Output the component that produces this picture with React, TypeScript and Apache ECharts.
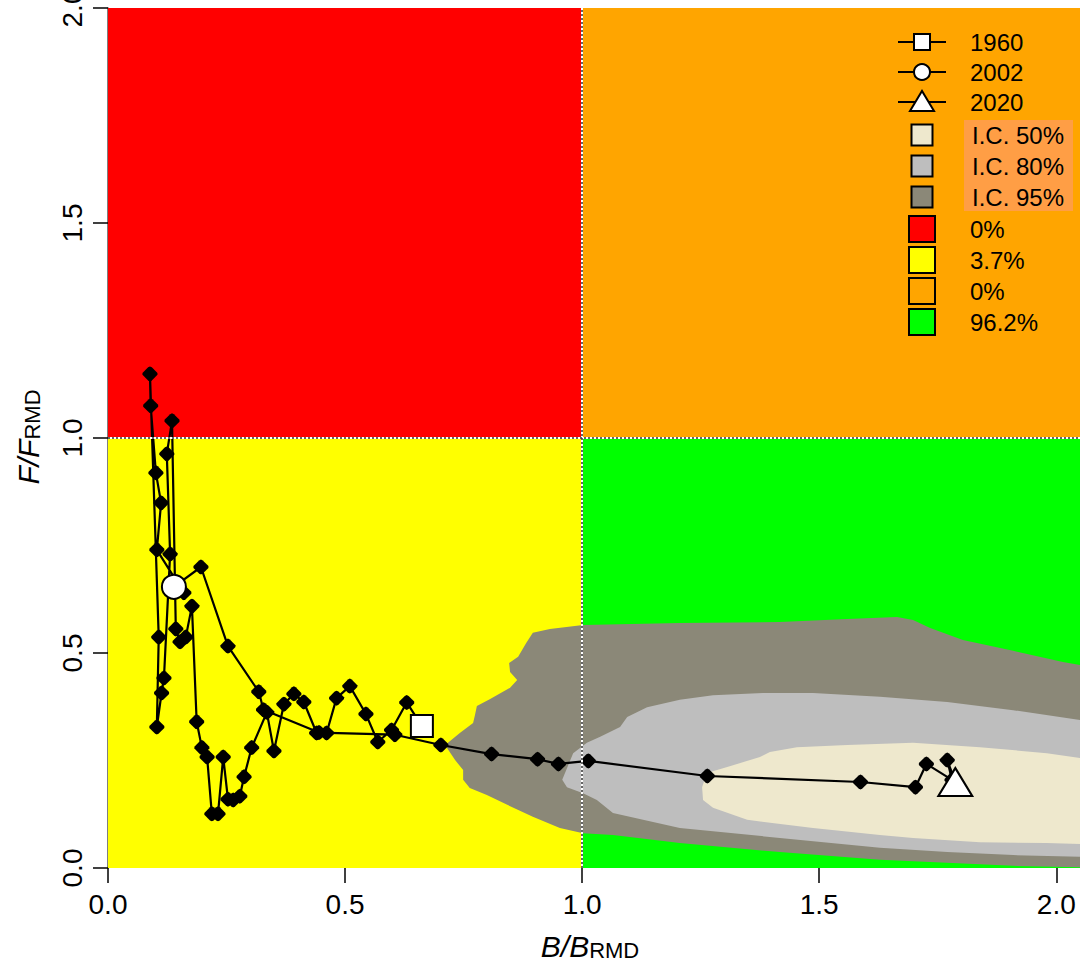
import React, { useEffect, useRef } from "react";
import * as echarts from "echarts";

// ---- Data ----
const X_MAX = 2.05;
const Y_MAX = 2;
const tickValues = [0, 0.5, 1, 1.5, 2];

const years = [
  1960, 1961, 1962, 1963, 1964, 1965, 1966, 1967, 1968, 1969,
  1970, 1971, 1972, 1973, 1974, 1975, 1976, 1977, 1978, 1979,
  1980, 1981, 1982, 1983, 1984, 1985, 1986, 1987, 1988, 1989,
  1990, 1991, 1992, 1993, 1994, 1995, 1996, 1997, 1998, 1999,
  2000, 2001, 2002, 2003, 2004, 2005, 2006, 2007, 2008, 2009,
  2010, 2011, 2012, 2013, 2014, 2015, 2016, 2017, 2018, 2019, 2020,
];
const bRatio = [
  0.662, 0.630, 0.598, 0.569, 0.544, 0.510, 0.482, 0.461, 0.440, 0.413,
  0.392, 0.371, 0.350, 0.335, 0.303, 0.287, 0.278, 0.264, 0.253, 0.243,
  0.232, 0.219, 0.209, 0.198, 0.187, 0.177, 0.164, 0.152, 0.143, 0.135,
  0.124, 0.131, 0.118, 0.113, 0.103, 0.107, 0.0885, 0.090, 0.101, 0.112,
  0.103, 0.160, 0.139, 0.196, 0.253, 0.318, 0.328, 0.445, 0.605, 0.702,
  0.809, 0.906, 0.950, 1.013, 1.264, 1.587, 1.703, 1.726, 1.780, 1.770, 1.787,
];
const fRatio = [
  0.330, 0.385, 0.321, 0.293, 0.358, 0.423, 0.395, 0.314, 0.314, 0.386,
  0.405, 0.381, 0.272, 0.362, 0.280, 0.212, 0.167, 0.158, 0.160, 0.258,
  0.126, 0.126, 0.258, 0.280, 0.340, 0.609, 0.537, 0.526, 0.556, 1.040,
  0.963, 0.730, 0.442, 0.407, 0.328, 0.537, 1.149, 1.075, 0.919, 0.849,
  0.740, 0.640, 0.654, 0.700, 0.516, 0.410, 0.368, 0.315, 0.310, 0.286,
  0.265, 0.253, 0.242, 0.249, 0.214, 0.200, 0.188, 0.242, 0.205, 0.251, 0.200,
];
const highlightYears = [1960, 2002, 2020];

// Confidence regions (B/Bmsy, F/Fmsy) vertices
const ci95 = [
  [0.715, 0.279], [0.717, 0.291], [0.742, 0.314], [0.770, 0.337], [0.774, 0.356],
  [0.778, 0.377], [0.806, 0.393], [0.848, 0.419], [0.863, 0.437], [0.848, 0.456],
  [0.846, 0.477], [0.865, 0.491], [0.882, 0.523], [0.896, 0.547], [0.932, 0.556],
  [1.002, 0.565], [1.206, 0.570], [1.417, 0.572], [1.559, 0.579], [1.664, 0.584],
  [1.698, 0.577], [1.734, 0.558], [1.803, 0.530], [1.909, 0.505], [2.014, 0.479],
  [2.05, 0.472], [2.05, 0.002], [1.909, 0.005], [1.769, 0.012], [1.628, 0.019],
  [1.417, 0.037], [1.206, 0.058], [1.065, 0.077], [1.002, 0.081], [0.953, 0.093],
  [0.896, 0.119], [0.842, 0.147], [0.799, 0.170], [0.763, 0.186], [0.749, 0.205],
  [0.749, 0.228], [0.732, 0.251],
];
const ci80 = [
  [0.958, 0.205], [0.981, 0.267], [1.010, 0.291], [1.038, 0.305], [1.080, 0.328],
  [1.095, 0.351], [1.137, 0.374], [1.206, 0.391], [1.276, 0.402], [1.381, 0.407],
  [1.487, 0.407], [1.628, 0.398], [1.770, 0.386], [1.909, 0.367], [2.05, 0.344],
  [2.05, 0.026], [1.909, 0.030], [1.770, 0.037], [1.628, 0.047], [1.417, 0.070],
  [1.206, 0.093], [1.065, 0.128], [1.031, 0.158], [1.002, 0.174], [0.968, 0.188],
];
const ci50 = [
  [1.253, 0.188], [1.263, 0.221], [1.306, 0.235], [1.375, 0.258], [1.396, 0.270],
  [1.453, 0.281], [1.559, 0.286], [1.698, 0.291], [1.839, 0.281], [1.980, 0.267],
  [2.05, 0.256], [2.05, 0.056], [1.980, 0.058], [1.839, 0.060], [1.698, 0.070],
  [1.628, 0.077], [1.487, 0.093], [1.348, 0.112], [1.276, 0.140], [1.255, 0.158],
];
const ciLabels = ["I.C. 50%", "I.C. 80%", "I.C. 95%"];

// Kobe quadrants: [xFrom, xTo, yFrom, yTo]
const quadrants = [
  [0, 1, 1, Y_MAX],
  [0, 1, 0, 1],
  [1, X_MAX, 1, Y_MAX],
  [1, X_MAX, 0, 1],
];
const quadrantPct = ["0%", "3.7%", "0%", "96.2%"];

// ---- Styles ----
const FONT = "'Liberation Sans', Arial, Helvetica, sans-serif";
const quadColors = ["#FF0000", "#FFFF00", "#FFA500", "#00FF00"];
const ciPolys = [ci95, ci80, ci50];
const ciColors = ["#8B8878", "#BEBEBE", "#EEE8CD"];
const ciLegendColors = ["#EEE8CD", "#BEBEBE", "#8B8878"];
const MARKER = "path://M8,0 L10,1 L16,7 L16,9 L10,15 L8,16 L6,15 L0,9 L0,7 L6,1 Z";

function buildLegend() {
  const els: any[] = [];
  const symX = 922;
  const textX = 970;
  const rowsY = [42, 72, 102];
  rowsY.forEach((y, i) => {
    els.push({
      type: "line",
      z: 100,
      shape: { x1: 898, y1: y, x2: 946, y2: y },
      style: { stroke: "#000", lineWidth: 2 },
    });
    if (i === 0) {
      els.push({ type: "rect", z: 101, shape: { x: symX - 8, y: y - 8, width: 16, height: 16 }, style: { fill: "#fff", stroke: "#000", lineWidth: 2 } });
    } else if (i === 1) {
      els.push({ type: "circle", z: 101, shape: { cx: symX, cy: y, r: 8 }, style: { fill: "#fff", stroke: "#000", lineWidth: 2 } });
    } else {
      els.push({ type: "polygon", z: 101, shape: { points: [[symX - 12, y + 9], [symX + 12, y + 9], [symX, y - 11]] }, style: { fill: "#fff", stroke: "#000", lineWidth: 2 } });
    }
    els.push({
      type: "text",
      z: 101,
      style: { text: String(highlightYears[i]), x: textX, y, fontSize: 24, fontFamily: FONT, fill: "#000", textVerticalAlign: "middle", textAlign: "left" },
    });
  });
  els.push({ type: "rect", z: 100, shape: { x: 964, y: 120, width: 109, height: 91 }, style: { fill: "#FF9E45" } });
  const ciY = [135, 166, 197];
  ciY.forEach((y, i) => {
    els.push({ type: "rect", z: 101, shape: { x: symX - 10.5, y: y - 10.5, width: 21, height: 21 }, style: { fill: ciLegendColors[i], stroke: "#000", lineWidth: 2 } });
    els.push({
      type: "text",
      z: 101,
      style: { text: ciLabels[i], x: 972, y, fontSize: 24, fontFamily: FONT, fill: "#000", textVerticalAlign: "middle", textAlign: "left" },
    });
  });
  const qY = [229, 260, 291, 322];
  qY.forEach((y, i) => {
    els.push({ type: "rect", z: 101, shape: { x: symX - 13, y: y - 13, width: 26, height: 26 }, style: { fill: quadColors[i], stroke: "#000", lineWidth: 2 } });
    els.push({
      type: "text",
      z: 101,
      style: { text: quadrantPct[i], x: textX, y, fontSize: 24, fontFamily: FONT, fill: "#000", textVerticalAlign: "middle", textAlign: "left" },
    });
  });
  return els;
}

function buildTitles() {
  const rich = {
    a: { fontSize: 30, fontStyle: "italic", fontFamily: FONT, color: "#000", verticalAlign: "bottom", lineHeight: 30 },
    b: { fontSize: 22, fontFamily: FONT, color: "#000", verticalAlign: "bottom", lineHeight: 18 },
  };
  return [
    {
      type: "text",
      z: 100,
      x: 590,
      y: 946,
      style: { text: "{a|B/B}{b|RMD}", rich, textAlign: "center", textVerticalAlign: "middle" },
    },
    {
      type: "text",
      z: 100,
      x: 28,
      y: 437,
      rotation: Math.PI / 2,
      style: { text: "{a|F/F}{b|RMD}", rich, textAlign: "center", textVerticalAlign: "middle" },
    },
  ];
}

export default function App() {
  const ref = useRef<HTMLDivElement>(null);

  useEffect(() => {
    if (!ref.current) return;
    const chart = echarts.init(ref.current, null, { renderer: "svg" });

    const trajectory = years.map((_, i) => [bRatio[i], fRatio[i]]);
    const highlightData = highlightYears.map((yr, k) => {
      const i = years.indexOf(yr);
      const sym = ["rect", "circle", "triangle"][k];
      const size = [[22, 22], [24, 24], [34, 28]][k];
      return { value: [bRatio[i], fRatio[i]], symbol: sym, symbolSize: size };
    });

    const option: any = {
      animation: false,
      grid: { left: 108, right: 0, top: 8, bottom: 98, containLabel: false, outerBoundsMode: "none" },
      xAxis: {
        type: "value",
        min: 0,
        max: X_MAX,
        interval: 0.5,
        axisLine: { show: false },
        axisTick: { show: true, length: 15, lineStyle: { color: "#000", width: 1.5 }, customValues: tickValues },
        axisLabel: { fontSize: 28, color: "#000", fontFamily: FONT, margin: 22, customValues: tickValues, formatter: (v: number) => v.toFixed(1) },
        splitLine: { show: false },
      },
      yAxis: {
        type: "value",
        min: 0,
        max: Y_MAX,
        interval: 0.5,
        axisLine: { show: true, lineStyle: { color: "#555", width: 1.5 } },
        axisTick: { show: true, length: 15, lineStyle: { color: "#000", width: 1.5 } },
        axisLabel: {
          fontSize: 28, color: "#000", fontFamily: FONT, margin: 22, rotate: 90,
          alignMaxLabel: "center", alignMinLabel: "center",
          formatter: (v: number) => v.toFixed(1),
        },
        splitLine: { show: false },
      },
      series: [
        {
          type: "custom",
          name: "quadrants",
          z: 1,
          silent: true,
          clip: true,
          data: quadrants,
          encode: { x: [0, 1], y: [2, 3] },
          renderItem: (params: any, api: any) => {
            const p0 = api.coord([api.value(0), api.value(3)]);
            const p1 = api.coord([api.value(1), api.value(2)]);
            return {
              type: "rect",
              shape: { x: p0[0], y: p0[1], width: p1[0] - p0[0], height: p1[1] - p0[1] },
              style: { fill: quadColors[params.dataIndex] },
            };
          },
          markLine: {
            silent: true,
            symbol: "none",
            label: { show: false },
            lineStyle: { color: "#fff", type: "solid", width: 2 },
            data: [{ xAxis: 1 }, { yAxis: 1 }],
          },
        },
        {
          type: "custom",
          name: "ci",
          z: 2,
          silent: true,
          clip: true,
          data: [[0], [1], [2]],
          renderItem: (params: any, api: any) => {
            const poly = ciPolys[params.dataIndex];
            return {
              type: "polygon",
              shape: { points: poly.map((p) => api.coord(p)) },
              style: { fill: ciColors[params.dataIndex] },
            };
          },
        },
        {
          type: "line",
          name: "ref",
          z: 3,
          data: [],
          silent: true,
          markLine: {
            silent: true,
            symbol: "none",
            label: { show: false },
            lineStyle: { color: "#333", type: [2, 2], width: 1.5 },
            data: [{ xAxis: 1 }, { yAxis: 1 }],
          },
        },
        {
          type: "line",
          name: "trajectory",
          z: 4,
          data: trajectory,
          symbol: MARKER,
          symbolSize: [15, 15],
          showSymbol: true,
          itemStyle: { color: "#000" },
          lineStyle: { color: "#000", width: 2.2 },
        },
        {
          type: "scatter",
          name: "highlights",
          z: 5,
          data: highlightData,
          itemStyle: { color: "#fff", borderColor: "#000", borderWidth: 2, opacity: 1 },
        },
      ],
      graphic: [...buildTitles(), ...buildLegend()],
    };

    chart.setOption(option);
    return () => chart.dispose();
  }, []);

  return (
    <div
      ref={ref}
      style={{ position: "absolute", left: 0, top: 0, width: 1080, height: 966, background: "#fff" }}
    />
  );
}
